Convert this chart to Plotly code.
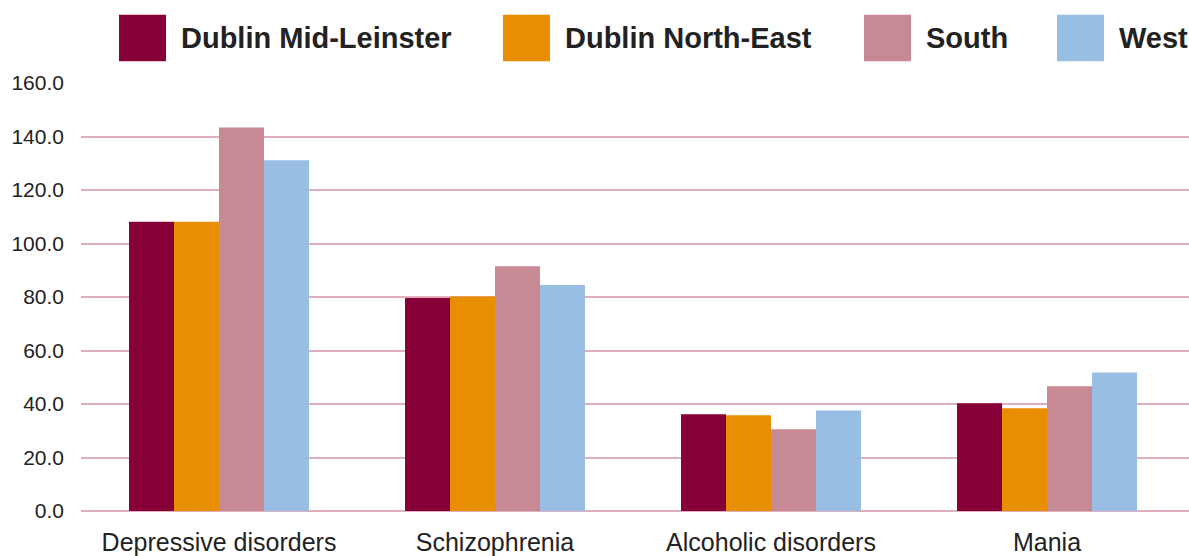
import plotly.graph_objects as go

categories = ["Depressive disorders", "Schizophrenia", "Alcoholic disorders", "Mania"]
series_names = ["Dublin Mid-Leinster", "Dublin North-East", "South", "West"]
dml_values = [108.1, 79.6, 36.2, 40.3]
dne_values = [108.1, 80.2, 35.8, 38.4]
south_values = [143.4, 91.5, 30.6, 46.6]
west_values = [131.1, 84.5, 37.6, 51.8]
y_tick_values = [0, 20, 40, 60, 80, 100, 120, 140, 160]
y_tick_labels = ["0.0", "20.0", "40.0", "60.0", "80.0", "100.0", "120.0", "140.0", "160.0"]

colors = ["#870037", "#e88e00", "#c78994", "#99bee3"]
series_values = [dml_values, dne_values, south_values, west_values]

W, H = 1189, 556
ML, MR, MT, MB = 81, 0, 83, 41
PW = W - ML - MR
PH = H - MT - MB
FONT = "Liberation Sans, Arial, Helvetica, sans-serif"

fig = go.Figure()
for name, vals, col in zip(series_names, series_values, colors):
    fig.add_trace(go.Bar(name=name, x=categories, y=vals, marker=dict(color=col, line=dict(width=0)),
                         showlegend=False))

# custom legend (large squares + bold labels), positions in screen pixels
legend_square_px = [119, 503, 864, 1057]
sq_top, sq_bot, sq_size = 14, 61, 47


def px_x(px):
    return (px - ML) / PW


def px_y(py):
    return (H - MB - py) / PH


shapes = []
annotations = []
for name, col, sx in zip(series_names, colors, legend_square_px):
    shapes.append(dict(type="rect", xref="paper", yref="paper",
                       x0=px_x(sx), x1=px_x(sx + sq_size), y0=px_y(sq_bot), y1=px_y(sq_top),
                       fillcolor=col, line=dict(width=0)))
    annotations.append(dict(xref="paper", yref="paper", x=px_x(sx + 60), y=px_y((sq_top + sq_bot) / 2),
                            xanchor="left", yanchor="middle", showarrow=False,
                            text="<b>" + name + "</b>",
                            font=dict(family=FONT, size=29, color="#222222")))

fig.update_layout(
    width=W, height=H,
    margin=dict(l=ML, r=MR, t=MT, b=MB, pad=0),
    paper_bgcolor="white", plot_bgcolor="white",
    barmode="group", bargap=0.348, bargroupgap=0,
    shapes=shapes, annotations=annotations,
    font=dict(family=FONT, color="#222222"),
    xaxis=dict(range=[-0.5, 3.5 + 4 / 276], showgrid=False, zeroline=False, showline=False,
               ticks="", tickfont=dict(size=25, color="#222222"), ticklabelstandoff=14,
               fixedrange=True),
    yaxis=dict(range=[0, 160], tickvals=y_tick_values, ticktext=y_tick_labels,
               showgrid=True, gridcolor="#dfb0bb", gridwidth=2,
               zeroline=True, zerolinecolor="#dfb0bb", zerolinewidth=2,
               showline=False, ticks="", tickfont=dict(size=21, color="#222222"),
               ticklabelstandoff=16, fixedrange=True),
)

fig.write_html(
    "out.html",
    config={"displayModeBar": False},
    post_script="document.body.style.margin='0';document.body.style.overflow='hidden';"
                "document.documentElement.style.overflow='hidden';",
)
